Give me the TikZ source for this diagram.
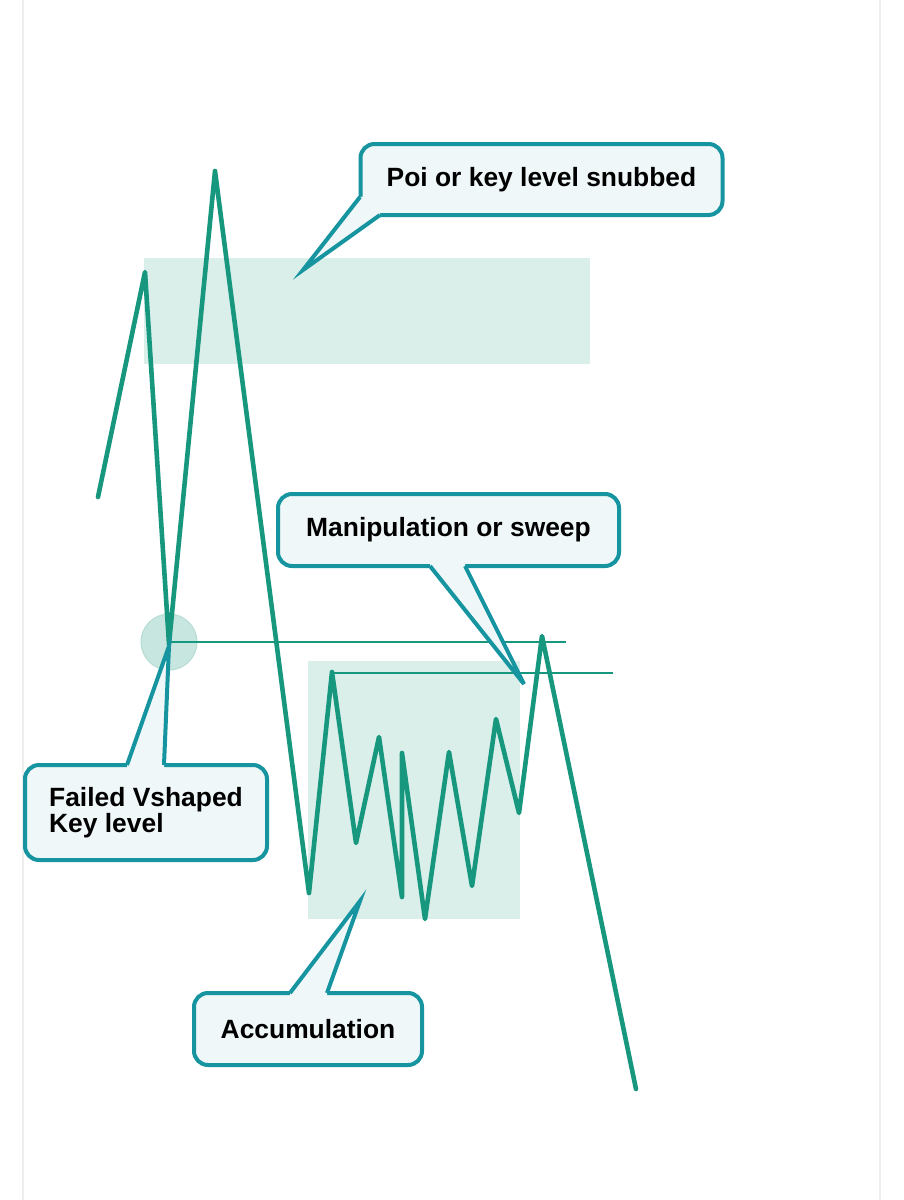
\documentclass[tikz,border=0pt]{standalone}
\usepackage{fontspec}
\setmainfont{Liberation Sans}
\begin{document}
\begin{tikzpicture}[x=1pt,y=-1pt,
  price/.style={draw=pricecol,line width=4.6pt,line join=round,line cap=round},
  level/.style={draw=pricecol,line width=2.2pt},
  zone/.style={fill=zonecol,draw=none},
  cbox/.style={draw=calloutcol,fill=calloutfill,line width=4pt,rounded corners=14pt,
    inner sep=0pt,font=\bfseries\fontsize{26.4}{26}\selectfont,align=center,text=black},
  cptr/.style={draw=calloutcol,line width=4pt,line join=miter,miter limit=8},
  cfillst/.style={fill=calloutfill,draw=none}]
\definecolor{pricecol}{RGB}{22,151,126}
\definecolor{calloutcol}{RGB}{22,149,160}
\definecolor{calloutfill}{RGB}{239,247,248}
\definecolor{zonecol}{RGB}{218,238,234}
\definecolor{circcol}{RGB}{199,230,223}
\definecolor{circline}{RGB}{183,221,213}
\definecolor{framecol}{RGB}{238,238,238}
\useasboundingbox (0,0) rectangle (903,1200);
\fill[white] (0,0) rectangle (903,1200);
% faint page edges
\draw[framecol,line width=1.5pt] (23,0) -- (23,1200);
\draw[framecol,line width=1.5pt] (880,0) -- (880,1200);
% zones
\path[zone] (144,258) rectangle (590,364);
\path[zone] (308,661) rectangle (520,919);
% circle
\node[circle,fill=circcol,draw=circline,line width=1pt,minimum size=56pt,inner sep=0pt] (ring) at (169,642) {};
% price path
\coordinate (p0) at (98,497);
\coordinate (p1) at (145,272);
\coordinate (vb) at (169,644);
\coordinate (p3) at (215,171);
\coordinate (p4) at (309,893);
\coordinate (acc) at (332,672);
\coordinate (p6) at (356,843);
\coordinate (p7) at (379,737);
\coordinate (p8) at (402,897);
\coordinate (p9) at (402,753);
\coordinate (p10) at (425,919);
\coordinate (p11) at (449,752);
\coordinate (p12) at (472,886);
\coordinate (p13) at (496,719);
\coordinate (p14) at (519,813);
\coordinate (sw) at (542,636);
\coordinate (pend) at (636,1089);
\draw[price] (p0) -- (p1) -- (vb) -- (p3) -- (p4) -- (acc) -- (p6) -- (p7) -- (p8) -- (p9) -- (p10) -- (p11) -- (p12) -- (p13) -- (p14) -- (sw) -- (pend);
% levels
\coordinate (l1e) at (566,642);
\coordinate (l2e) at (613,673);
\draw[level] (169,642) -- (l1e);
\draw[level] (acc) ++(0,1) -- (l2e);
% callout 1
\node[cbox,minimum width=362pt,minimum height=71pt] (poi) at (541.5,179.5) {Poi or key level snubbed};
\coordinate (t1) at (303,270);
\path[cfillst] (360,197) -- (t1) -- (380,215) -- (381,207) -- (367,196) -- cycle;
\draw[cptr] (360,197) -- (t1) -- (380,215);
% callout 2
\node[cbox,minimum width=341pt,minimum height=72pt] (man) at (448.5,530) {Manipulation or sweep};
\coordinate (t2) at (524,684);
\path[cfillst] (430,566) -- (t2) -- (465,566) -- (465,558) -- (430,558) -- cycle;
\draw[cptr] (430,566) -- (t2) -- (465,566);
% callout 3
\node[cbox,minimum width=242pt,minimum height=95pt,align=left] (fail) at (146,812.5) {Failed Vshaped\\Key level};
\coordinate (t3) at (169,646);
\path[cfillst] (127,765) -- (t3) -- (164,765) -- (164,773) -- (127,773) -- cycle;
\draw[cptr] (127,765) -- (t3) -- (164,765);
% callout 4
\node[cbox,minimum width=228pt,minimum height=72pt] (accum) at (308,1029) {Accumulation};
\coordinate (t4) at (360,901);
\path[cfillst] (290,993) -- (t4) -- (327,993) -- (327,1001) -- (290,1001) -- cycle;
\draw[cptr] (290,993) -- (t4) -- (327,993);
\end{tikzpicture}
\end{document}
